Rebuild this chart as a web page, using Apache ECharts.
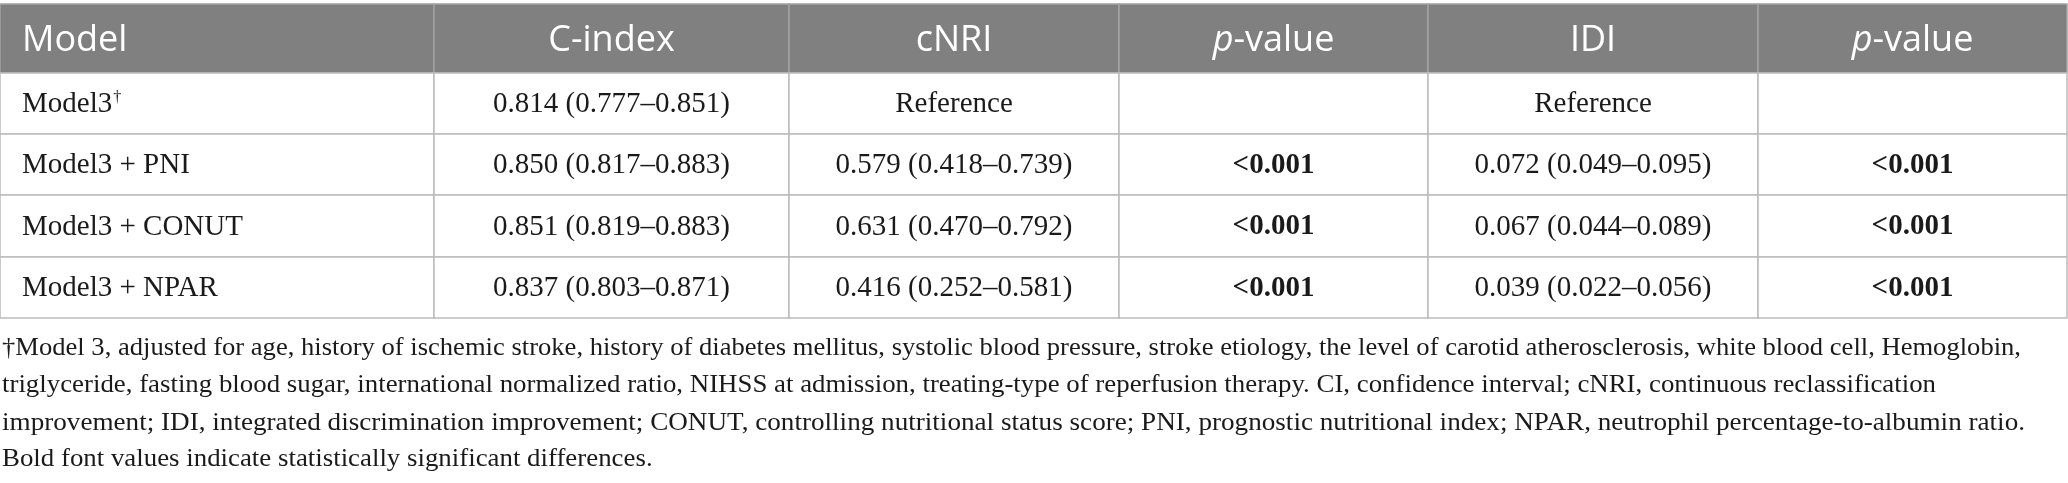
<!DOCTYPE html>
<html>
<head>
<meta charset="utf-8">
<script src="https://cdn.jsdelivr.net/npm/echarts@6.0.0/dist/echarts.min.js"></script>
<style>
  html, body { margin: 0; padding: 0; background: #fff; }
  #main { width: 2068px; height: 483px; }
</style>
</head>
<body>
<div id="main"></div>
<script>
// table content
var columns = ['Model', 'C-index', 'cNRI', '{pi|p}-value', 'IDI', '{pi|p}-value'];
var models = ['{n|Model3}{sup|†}', 'Model3 + PNI', 'Model3 + CONUT', 'Model3 + NPAR'];
var cIndex = ['0.814 (0.777–0.851)', '0.850 (0.817–0.883)', '0.851 (0.819–0.883)', '0.837 (0.803–0.871)'];
var cNRI = ['Reference', '0.579 (0.418–0.739)', '0.631 (0.470–0.792)', '0.416 (0.252–0.581)'];
var cNRIp = ['', '<0.001', '<0.001', '<0.001'];
var idi = ['Reference', '0.072 (0.049–0.095)', '0.067 (0.044–0.089)', '0.039 (0.022–0.056)'];
var idiP = ['', '<0.001', '<0.001', '<0.001'];
var boldCols = [3, 5];

var noteLines = [
  '†Model 3, adjusted for age, history of ischemic stroke, history of diabetes mellitus, systolic blood pressure, stroke etiology, the level of carotid atherosclerosis, white blood cell, Hemoglobin,',
  'triglyceride, fasting blood sugar, international normalized ratio, NIHSS at admission, treating-type of reperfusion therapy. CI, confidence interval; cNRI, continuous reclassification',
  'improvement; IDI, integrated discrimination improvement; CONUT, controlling nutritional status score; PNI, prognostic nutritional index; NPAR, neutrophil percentage-to-albumin ratio.',
  'Bold font values indicate statistically significant differences.'
];

// layout (axis units = page pixels)
var colEdges = [0, 434, 789, 1119, 1428, 1758, 2067];
var rowEdges = [4, 73, 134, 195, 257, 318];
var noteY = [348, 385, 423, 459];
var noteWidths = [2019, 1934, 2023];

var bodyCols = [models, cIndex, cNRI, cNRIp, idi, idiP];
var cells = [];
columns.forEach(function (t, c) {
  cells.push({ value: [c, 0], text: t });
});
for (var r = 0; r < models.length; r++) {
  for (var c = 0; c < bodyCols.length; c++) {
    cells.push({ value: [c, r + 1], text: bodyCols[c][r] });
  }
}

var headFont = '36px "Open Sans"';
var bodyFont = '29px "Liberation Serif"';
var noteFont = '26px "Liberation Serif"';

function renderCell(params, api) {
  var c = api.value(0), r = api.value(1);
  var p0 = api.coord([colEdges[c], rowEdges[r]]);
  var p1 = api.coord([colEdges[c + 1], rowEdges[r + 1]]);
  var x = p0[0], y = p0[1], w = p1[0] - p0[0], h = p1[1] - p0[1];
  var head = r === 0;
  var txt = cells[params.dataIndex].text;
  var bold = !head && boldCols.indexOf(c) >= 0;
  return {
    type: 'group',
    children: [{
      type: 'rect',
      shape: { x: x, y: y, width: w, height: h },
      style: { fill: head ? '#7f807f' : '#fff', stroke: head ? '#a3a3a3' : '#bcbcbc', lineWidth: 1.5 }
    }, {
      type: 'text',
      z2: 10,
      style: {
        text: txt,
        x: c === 0 ? x + 22 : x + w / 2,
        y: y + h / 2 + (head ? 2 : 1),
        align: c === 0 ? 'left' : 'center',
        verticalAlign: 'middle',
        font: head ? headFont : (bold ? 'bold ' + bodyFont : bodyFont),
        fill: head ? '#ffffff' : '#1a1a1a',
        rich: {
          pi: { font: 'italic 36px "Open Sans"', fill: '#ffffff' },
          n: { font: bodyFont, fill: '#1a1a1a' },
          sup: { font: '16px "Liberation Serif"', fill: '#1a1a1a', verticalAlign: 'top', padding: [0, 0, 12, 1] }
        }
      }
    }]
  };
}

// footnote: fit each line to the width it takes in the picture
var meas = document.createElement('canvas').getContext('2d');
meas.font = noteFont;
var scales = noteWidths.map(function (wd, i) { return wd / meas.measureText(noteLines[i]).width; });
var avgScale = (scales[0] + scales[1] + scales[2]) / 3;
var notes = noteLines.map(function (t, i) {
  return {
    type: 'text',
    x: 2,
    y: noteY[i],
    scaleX: i < scales.length ? scales[i] : avgScale,
    style: { text: t, font: noteFont, fill: '#1a1a1a', verticalAlign: 'middle' }
  };
});

var chart = echarts.init(document.getElementById('main'));
chart.setOption({
  animation: false,
  grid: { left: 0, right: 0, top: 0, bottom: 0 },
  xAxis: { type: 'value', min: 0, max: 2068, show: false },
  yAxis: { type: 'value', min: 0, max: 483, inverse: true, show: false },
  graphic: notes,
  series: [{
    type: 'custom',
    renderItem: renderCell,
    data: cells,
    clip: false
  }]
});
</script>
</body>
</html>
